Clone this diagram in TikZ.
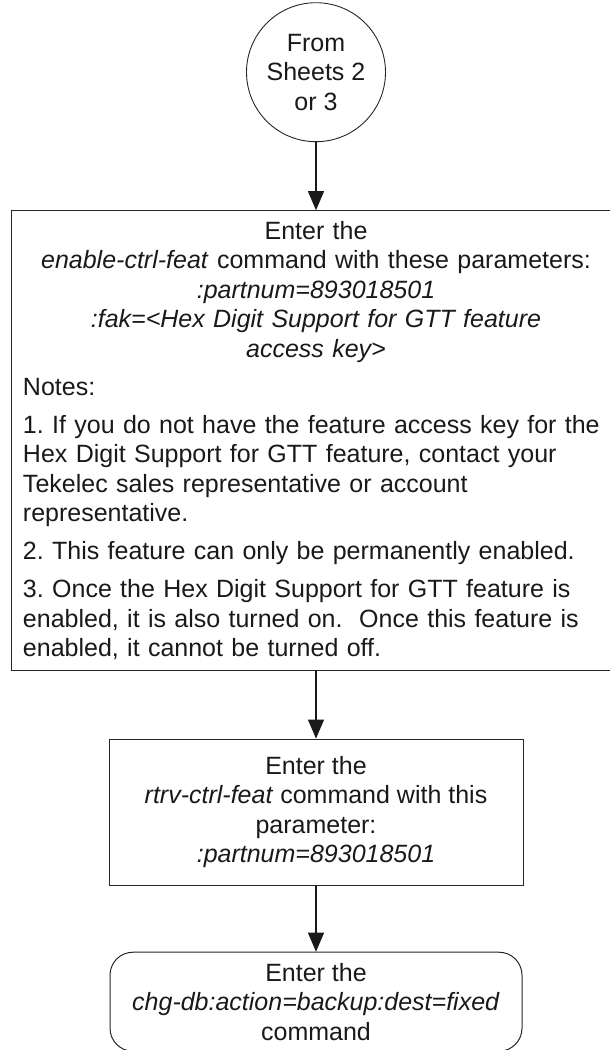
\documentclass[tikz,border=0pt]{standalone}
\usepackage{fontspec}
\setmainfont{Liberation Sans}
\usetikzlibrary{arrows.meta}
\frenchspacing
\begin{document}
\begin{tikzpicture}[x=1pt,y=-1pt,
  every node/.style={font=\fontsize{25}{29.5}\selectfont, text=black!90},
  box/.style={draw=black!85, line width=1pt, inner sep=0pt},
  conn/.style={draw=black!90, line width=1.2pt, -{Triangle[length=19pt,width=16pt]}}]
\useasboundingbox (0,0) rectangle (610,1050);
\node[box, circle, minimum size=139pt, align=center, line width=0.9pt] (from) at (316,72.2) {From\\Sheets 2\\or 3};
\node[box, minimum width=608.6pt, minimum height=460pt, text width=586pt] (enable) at (316,440.7) {%
\frenchspacing\setlength{\parskip}{8.5pt}%
{\centering Enter the\\
\textit{enable-ctrl-feat} command with these parameters:\\
\textit{:partnum=893018501}\\
\textit{:fak=<Hex Digit Support for GTT feature}\\
\textit{access key>}\par}
\raggedright Notes:\par
1. If you do not have the feature access key for the\\
Hex Digit Support for GTT feature, contact your\\
Tekelec sales representative or account\\
representative.\par
2. This feature can only be permanently enabled.\par
3. Once the Hex Digit Support for GTT feature is\\
enabled, it is also turned on.\ \ Once this feature is\\
enabled, it cannot be turned off.\par};
\node[box, minimum width=414pt, minimum height=146.3pt, align=center] (rtrv) at (316,812.2) {Enter the\\\textit{rtrv-ctrl-feat} command with this\\parameter:\\\textit{:partnum=893018501}};
\node[box, rounded corners=23pt, minimum width=412pt, minimum height=99pt, align=center] (chg) at (316,1001.7) {Enter the\\\textit{chg-db:action=backup:dest=fixed}\\command};
\draw[conn] (from) -- (enable);
\draw[conn] (enable) -- (rtrv);
\draw[conn] (rtrv) -- (chg);
\end{tikzpicture}
\end{document}
